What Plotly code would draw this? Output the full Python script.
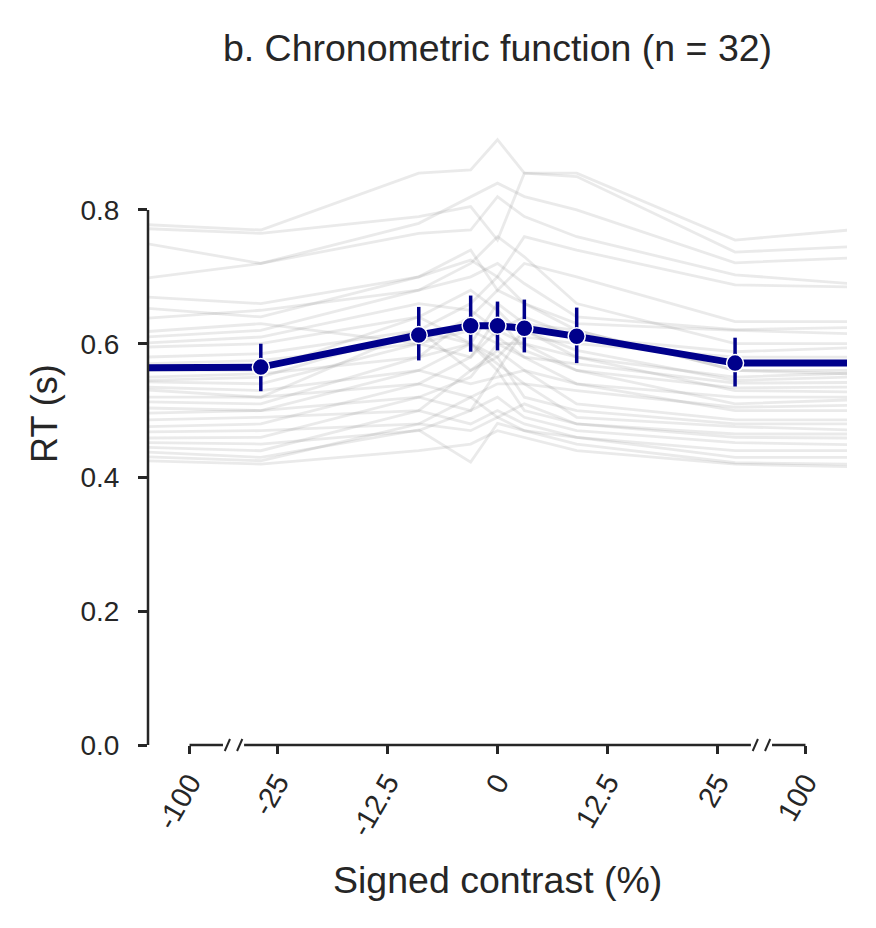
import plotly.graph_objects as go

# ---------------- data ----------------
tick_positions = [-35, -25, -12.5, 0, 12.5, 25, 35]
tick_labels = ['-100', '-25', '-12.5', '0', '12.5', '25', '100']

contrasts = [-100, -25, -12.5, -6.25, 0, 6.25, 12.5, 25, 100]
# position of each contrast on the (broken) x axis
contrast_x = [-40, -26.9, -8.95, -3.05, 0, 3.05, 9.0, 27.0, 40]

mean_rt = [0.564, 0.565, 0.613, 0.627, 0.627, 0.623, 0.611, 0.571, 0.571]
ci_low = [None, 0.529, 0.575, 0.588, 0.590, 0.587, 0.571, 0.536, None]
ci_high = [None, 0.600, 0.655, 0.672, 0.663, 0.666, 0.654, 0.609, None]

s01 = [0.778, 0.770, 0.855, 0.860, 0.905, 0.855, 0.855, 0.755, 0.770]
s02 = [0.772, 0.765, 0.790, 0.805, 0.755, 0.855, 0.850, 0.737, 0.745]
s03 = [0.750, 0.720, 0.780, 0.820, 0.840, 0.820, 0.800, 0.721, 0.728]
s04 = [0.698, 0.720, 0.765, 0.770, 0.820, 0.790, 0.760, 0.703, 0.690]
s05 = [0.670, 0.660, 0.700, 0.725, 0.700, 0.760, 0.740, 0.688, 0.685]
s06 = [0.653, 0.640, 0.700, 0.740, 0.680, 0.720, 0.700, 0.633, 0.633]
s07 = [0.638, 0.650, 0.680, 0.700, 0.720, 0.690, 0.640, 0.621, 0.624]
s08 = [0.618, 0.630, 0.600, 0.640, 0.680, 0.660, 0.630, 0.620, 0.615]
s09 = [0.601, 0.610, 0.660, 0.650, 0.620, 0.640, 0.610, 0.588, 0.594]
s10 = [0.595, 0.600, 0.640, 0.680, 0.650, 0.610, 0.600, 0.580, 0.580]
s11 = [0.580, 0.585, 0.620, 0.600, 0.660, 0.630, 0.620, 0.560, 0.560]
s12 = [0.570, 0.575, 0.600, 0.620, 0.600, 0.600, 0.580, 0.550, 0.556]
s13 = [0.560, 0.560, 0.640, 0.600, 0.580, 0.620, 0.590, 0.545, 0.550]
s14 = [0.550, 0.555, 0.580, 0.640, 0.610, 0.580, 0.570, 0.541, 0.542]
s15 = [0.543, 0.540, 0.600, 0.580, 0.640, 0.590, 0.560, 0.534, 0.535]
s16 = [0.535, 0.530, 0.560, 0.600, 0.560, 0.620, 0.580, 0.530, 0.528]
s17 = [0.531, 0.520, 0.620, 0.560, 0.590, 0.560, 0.540, 0.520, 0.520]
s18 = [0.520, 0.520, 0.540, 0.580, 0.620, 0.600, 0.560, 0.510, 0.516]
s19 = [0.513, 0.510, 0.580, 0.600, 0.570, 0.540, 0.530, 0.505, 0.508]
s20 = [0.504, 0.500, 0.520, 0.550, 0.600, 0.580, 0.540, 0.500, 0.500]
s21 = [0.496, 0.500, 0.560, 0.540, 0.550, 0.560, 0.510, 0.486, 0.486]
s22 = [0.486, 0.490, 0.500, 0.560, 0.580, 0.520, 0.500, 0.480, 0.480]
s23 = [0.476, 0.480, 0.540, 0.520, 0.540, 0.540, 0.490, 0.476, 0.471]
s24 = [0.468, 0.470, 0.480, 0.520, 0.490, 0.510, 0.480, 0.465, 0.465]
s25 = [0.459, 0.460, 0.520, 0.500, 0.560, 0.500, 0.480, 0.460, 0.459]
s26 = [0.452, 0.450, 0.470, 0.500, 0.520, 0.490, 0.470, 0.452, 0.449]
s27 = [0.445, 0.440, 0.500, 0.480, 0.500, 0.480, 0.460, 0.440, 0.440]
s28 = [0.438, 0.430, 0.471, 0.423, 0.481, 0.470, 0.460, 0.430, 0.430]
s29 = [0.431, 0.425, 0.480, 0.470, 0.490, 0.470, 0.450, 0.422, 0.420]
s30 = [0.425, 0.420, 0.440, 0.450, 0.470, 0.460, 0.440, 0.420, 0.416]
s31 = [0.610, 0.620, 0.680, 0.720, 0.760, 0.730, 0.660, 0.600, 0.600]
s32 = [0.545, 0.550, 0.620, 0.660, 0.700, 0.660, 0.620, 0.560, 0.555]

subjects = [s01, s02, s03, s04, s05, s06, s07, s08, s09, s10, s11, s12, s13, s14, s15, s16,
            s17, s18, s19, s20, s21, s22, s23, s24, s25, s26, s27, s28, s29, s30, s31, s32]

y_ticks = [0.0, 0.2, 0.4, 0.6, 0.8]

# ---------------- styling ----------------
TXT = '#262626'
FONT = 'Liberation Sans, Arial, sans-serif'
BLUE = '#00008B'
X_RANGE = [-39.72, 39.72]
Y_RANGE = [0, 0.93]

fig = go.Figure()

for s in subjects:
    fig.add_trace(go.Scatter(
        x=contrast_x, y=s, mode='lines',
        line=dict(color='rgba(128,128,128,0.17)', width=2.8),
        hoverinfo='skip', showlegend=False))

# mean line
fig.add_trace(go.Scatter(
    x=contrast_x, y=mean_rt, mode='lines',
    line=dict(color=BLUE, width=7), showlegend=False))

# points with CI error bars (inner contrasts)
idx = [i for i in range(len(contrasts)) if ci_low[i] is not None]
fig.add_trace(go.Scatter(
    x=[contrast_x[i] for i in idx],
    y=[mean_rt[i] for i in idx],
    mode='markers',
    marker=dict(color=BLUE, size=17, line=dict(color='white', width=1.5)),
    error_y=dict(type='data', symmetric=False,
                 array=[ci_high[i] - mean_rt[i] for i in idx],
                 arrayminus=[mean_rt[i] - ci_low[i] for i in idx],
                 color=BLUE, thickness=3.5, width=0),
    showlegend=False))

# ---------------- spines (trimmed, with axis break) ----------------
shapes = []
LW = 2.5
shapes.append(dict(type='line', xref='paper', yref='y', x0=0, x1=0, y0=0, y1=0.8,
                   line=dict(color=TXT, width=LW)))
brk_l, brk_r = -30, 30
segments = [(tick_positions[0], brk_l - 1.2), (brk_l + 1.2, brk_r - 1.2), (brk_r + 1.2, tick_positions[-1])]
for a, b in segments:
    shapes.append(dict(type='line', xref='x', yref='paper', x0=a, x1=b, y0=0, y1=0,
                       line=dict(color=TXT, width=LW)))
dy = 6 / 621.9
for c in (brk_l, brk_r):
    for off in (-0.7, 0.7):
        shapes.append(dict(type='line', xref='x', yref='paper',
                           x0=c + off - 0.3, x1=c + off + 0.3, y0=-dy, y1=dy,
                           line=dict(color=TXT, width=2)))

fig.update_layout(
    width=876, height=928,
    margin=dict(l=148, r=29, t=123, b=183),
    paper_bgcolor='white', plot_bgcolor='white',
    font=dict(family=FONT, color=TXT),
    shapes=shapes,
    title=dict(text='b. Chronometric function (n = 32)', x=0.5, xref='paper', xanchor='center',
               y=1 - 48 / 928, yref='container', yanchor='middle',
               font=dict(size=37.5, color=TXT, family=FONT)),
    xaxis=dict(range=X_RANGE, showgrid=False, zeroline=False, showline=False,
               tickmode='array', tickvals=tick_positions, ticktext=tick_labels,
               ticks='outside', ticklen=8, tickwidth=2.5, tickcolor=TXT,
               tickangle=-60, tickfont=dict(size=29, color=TXT, family=FONT)),
    yaxis=dict(range=Y_RANGE, showgrid=False, zeroline=False, showline=False,
               tickmode='array', tickvals=y_ticks, ticktext=['%.1f' % v for v in y_ticks],
               ticks='outside', ticklen=9, tickwidth=2.5, tickcolor=TXT,
               ticklabelstandoff=13, tickfont=dict(size=28, color=TXT, family=FONT)),
    annotations=[
        dict(text='Signed contrast (%)', xref='paper', yref='paper', x=0.5, y=-(880 - 745) / 621.9,
             xanchor='center', yanchor='middle', showarrow=False,
             font=dict(size=37.5, color=TXT, family=FONT)),
        dict(text='RT (s)', xref='paper', yref='paper', x=(45 - 148) / 699, y=(745 - 414) / 621.9,
             xanchor='center', yanchor='middle', textangle=-90, showarrow=False,
             font=dict(size=36, color=TXT, family=FONT)),
    ],
)

fig.write_html('out.html', config={'displayModeBar': False},
               post_script="document.body.style.margin='0';document.body.style.padding='0';")
